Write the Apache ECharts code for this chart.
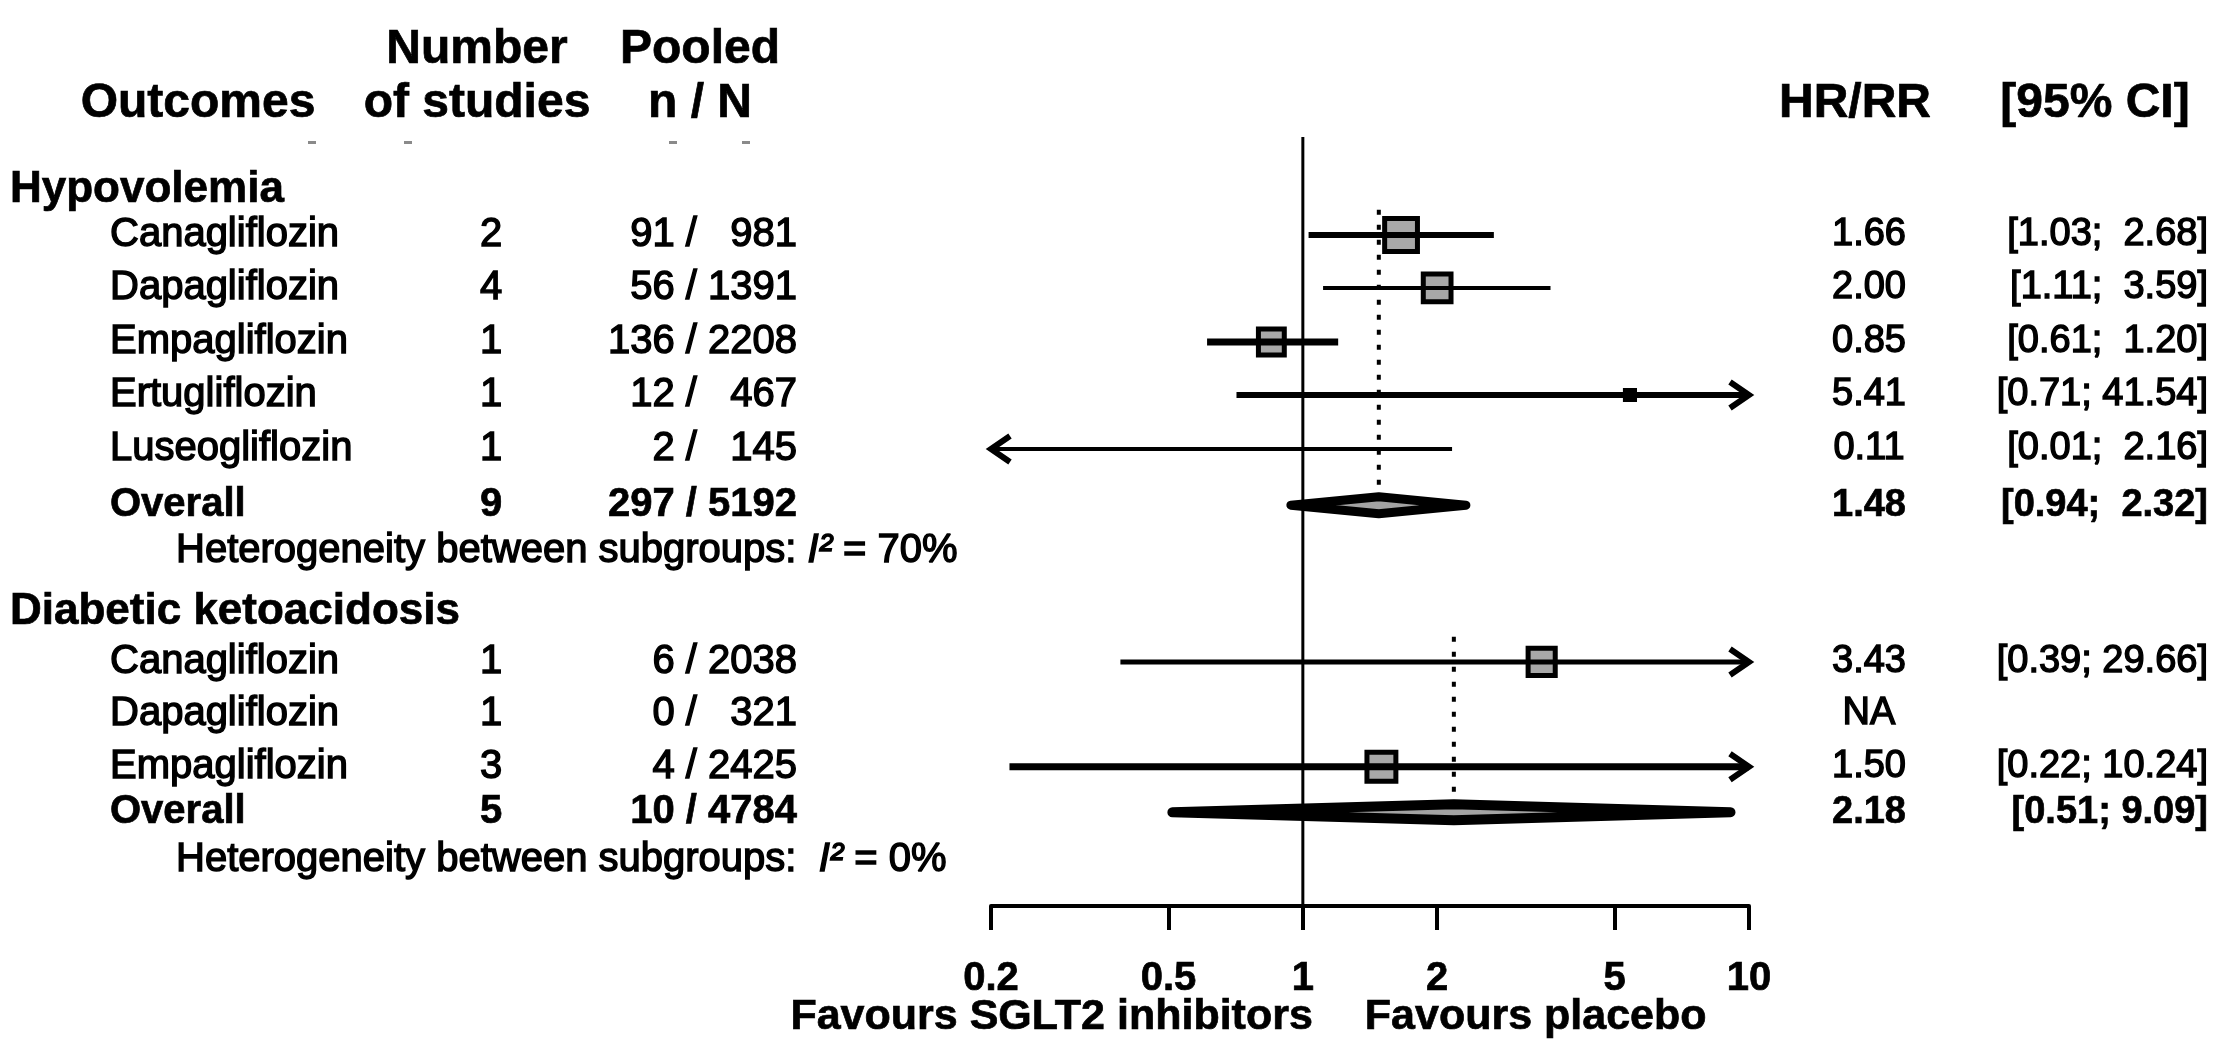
<!DOCTYPE html>
<html>
<head>
<meta charset="utf-8">
<title>SGLT2 inhibitors: hypovolemia and diabetic ketoacidosis</title>
<script src="https://cdn.jsdelivr.net/npm/echarts@6/dist/echarts.min.js"></script>
<style>
  html, body { margin: 0; padding: 0; background: #ffffff; }
  #chart { width: 2223px; height: 1043px; }
</style>
</head>
<body>
<div id="chart"></div>
<script>
// ---------------- Data ----------------
const outcomeGroups = ['Hypovolemia', 'Diabetic ketoacidosis'];

// one entry per drug row
const studyGroup  = [0, 0, 0, 0, 0, 1, 1, 1];
const studyDrug   = ['Canagliflozin', 'Dapagliflozin', 'Empagliflozin', 'Ertugliflozin', 'Luseogliflozin',
                     'Canagliflozin', 'Dapagliflozin', 'Empagliflozin'];
const studyCount  = [2, 4, 1, 1, 1, 1, 1, 3];
const studyEvents = [91, 56, 136, 12, 2, 6, 0, 4];
const studyTotal  = [981, 1391, 2208, 467, 145, 2038, 321, 2425];
const studyHR     = [1.66, 2.00, 0.85, 5.41, 0.11, 3.43, null, 1.50];
const studyLower  = [1.03, 1.11, 0.61, 0.71, 0.01, 0.39, null, 0.22];
const studyUpper  = [2.68, 3.59, 1.20, 41.54, 2.16, 29.66, null, 10.24];
const studyWeight = [36, 27, 24, 5, 1, 26, 0, 29];

// pooled result per outcome
const overallCount  = [9, 5];
const overallEvents = [297, 10];
const overallTotal  = [5192, 4784];
const overallHR     = [1.48, 2.18];
const overallLower  = [0.94, 0.51];
const overallUpper  = [2.32, 9.09];
const subgroupI2    = [70, 0];

const axisTicks      = [0.2, 0.5, 1, 2, 5, 10];
const axisTickLabels = ['0.2', '0.5', '1', '2', '5', '10'];
const favourLabels   = ['Favours SGLT2 inhibitors', 'Favours placebo'];

// ---------------- Layout ----------------
const FONT = "'Liberation Sans', Arial, Helvetica, sans-serif";
const lg = Math.log10;
const X_MIN = lg(axisTicks[0]);
const X_MAX = lg(axisTicks[axisTicks.length - 1]);
const Y_MIN = -1.832, Y_MAX = 12.542;        // vertical extent of the plot panel, in row slots

// vertical position of each table line, in row slots
const headerSlots  = [-3.46, -2.45];
const groupSlots   = [-0.84, 7.05];
const studySlots   = [0, 0.99, 2.0, 2.99, 4.0, 7.98, 8.95, 9.94];
const overallSlots = [5.05, 10.79];
const hetSlots     = [5.91, 11.68];
const footerSlot   = 14.62;

// horizontal anchors of the text columns (px)
const COL = { group: 10, drug: 110, het: 176, count: 491, events: 797, hr: 1869, ci: 2208 };
const HEAD = { outcomes: 198, studies: 477, pooled: 700, hr: 1855, ci: 2095 };

const TEXT = {
  head:    { size: 48, bold: true },
  group:   { size: 44, bold: true },
  body:    { size: 40, bold: false },
  bodyB:   { size: 40, bold: true },
  value:   { size: 38, bold: false },
  valueB:  { size: 38, bold: true },
  footer:  { size: 43, bold: true }
};

// ---------------- Formatting helpers ----------------
const fmt2 = v => v.toFixed(2);
const padLeft = (s, n) => ' '.repeat(Math.max(0, n - s.length)) + s;
const fmtCI = (lo, hi, w) => '[' + fmt2(lo) + '; ' + padLeft(fmt2(hi), w) + ']';
const fmtNN = (n, N) => n + ' / ' + '  '.repeat(Math.max(0, 4 - String(N).length)) + N;
const overallCIWidth = [5, 4];

// ---------------- Table rows ----------------
const tableRows = [];
tableRows.push({ slot: headerSlots[0], cells: [
  { x: HEAD.studies, text: 'Number', align: 'center', st: TEXT.head },
  { x: HEAD.pooled, text: 'Pooled', align: 'center', st: TEXT.head }
]});
tableRows.push({ slot: headerSlots[1], cells: [
  { x: HEAD.outcomes, text: 'Outcomes', align: 'center', st: TEXT.head },
  { x: HEAD.studies, text: 'of studies', align: 'center', st: TEXT.head },
  { x: HEAD.pooled, text: 'n / N', align: 'center', st: TEXT.head },
  { x: HEAD.hr, text: 'HR/RR', align: 'center', st: TEXT.head },
  { x: HEAD.ci, text: '[95% CI]', align: 'center', st: TEXT.head }
]});
outcomeGroups.forEach((g, gi) => {
  tableRows.push({ slot: groupSlots[gi], cells: [
    { x: COL.group, text: g, align: 'left', st: TEXT.group }
  ]});
  studyDrug.forEach((d, i) => {
    if (studyGroup[i] !== gi) return;
    const hasEst = studyHR[i] != null;
    tableRows.push({ slot: studySlots[i], cells: [
      { x: COL.drug, text: d, align: 'left', st: TEXT.body },
      { x: COL.count, text: String(studyCount[i]), align: 'center', st: TEXT.body },
      { x: COL.events, text: fmtNN(studyEvents[i], studyTotal[i]), align: 'right', st: TEXT.body },
      { x: COL.hr, text: hasEst ? fmt2(studyHR[i]) : 'NA', align: 'center', st: TEXT.value },
      { x: COL.ci, text: hasEst ? fmtCI(studyLower[i], studyUpper[i], 5) : '', align: 'right', st: TEXT.value }
    ]});
  });
  tableRows.push({ slot: overallSlots[gi], cells: [
    { x: COL.drug, text: 'Overall', align: 'left', st: TEXT.bodyB },
    { x: COL.count, text: String(overallCount[gi]), align: 'center', st: TEXT.bodyB },
    { x: COL.events, text: fmtNN(overallEvents[gi], overallTotal[gi]), align: 'right', st: TEXT.bodyB },
    { x: COL.hr, text: fmt2(overallHR[gi]), align: 'center', st: TEXT.valueB },
    { x: COL.ci, text: fmtCI(overallLower[gi], overallUpper[gi], overallCIWidth[gi]), align: 'right', st: TEXT.valueB }
  ]});
  tableRows.push({ slot: hetSlots[gi], cells: [
    { x: COL.het, text: 'Heterogeneity between subgroups: ' + (subgroupI2[gi] < 10 ? ' ' : '') +
        '{i|I²} = ' + subgroupI2[gi] + '%', align: 'left', st: TEXT.body }
  ]});
});
// captions under the axis, placed either side of the line of no effect
tableRows.push({ slot: footerSlot, cells: [
  { atOne: 10, text: favourLabels[0], align: 'right', st: TEXT.footer },
  { atOne: 62, text: favourLabels[1], align: 'left', st: TEXT.footer }
]});

function renderTable(params, api) {
  const row = tableRows[params.dataIndex];
  const p = api.coord([0, api.value(1)]);
  return {
    type: 'group',
    children: row.cells.map(c => {
      const weight = c.st.bold ? 0.7 : 1.4;
      return {
        type: 'text',
        x: c.atOne != null ? p[0] + c.atOne : c.x,
        y: p[1],
        silent: true,
        style: {
          text: c.text,
          fill: '#000',
          fontFamily: FONT,
          fontSize: c.st.size,
          fontWeight: c.st.bold ? 'bold' : 'normal',
          stroke: '#000',
          lineWidth: weight,
          align: c.align,
          verticalAlign: 'middle',
          rich: { i: { fontFamily: FONT, fontSize: c.st.size, fontStyle: 'italic',
                       fill: '#000', stroke: '#000', lineWidth: weight } }
        }
      };
    })
  };
}

// ---------------- Forest marks ----------------
const BOX_SCALE = 6.3;
const ciWidth = [6, 4, 7, 6, 4, 5, 0, 7];

const studyItems = [];
studyDrug.forEach((d, i) => {
  if (studyHR[i] == null) return;
  studyItems.push([lg(studyLower[i]), lg(studyHR[i]), lg(studyUpper[i]), studySlots[i], i]);
});

function chevron(tip, dir) {
  return {
    type: 'polyline',
    shape: { points: [[tip[0] - dir * 19, tip[1] - 13], tip, [tip[0] - dir * 19, tip[1] + 13]] },
    style: { stroke: '#000', lineWidth: 6, fill: null, lineJoin: 'miter' }
  };
}

function renderStudy(params, api) {
  const lo = api.value(0), est = api.value(1), hi = api.value(2), slot = api.value(3);
  const i = api.value(4);
  const a = api.coord([Math.max(lo, X_MIN), slot]);
  const b = api.coord([Math.min(hi, X_MAX), slot]);
  const children = [];
  if (est >= X_MIN && est <= X_MAX) {
    const c = api.coord([est, slot]);
    const s = BOX_SCALE * Math.sqrt(studyWeight[i]);
    const lw = Math.min(5, s / 3);
    children.push({
      type: 'rect',
      shape: { x: c[0] - (s - lw) / 2, y: c[1] - (s - lw) / 2, width: s - lw, height: s - lw },
      style: { fill: s > 18 ? '#a8a8a8' : '#000', stroke: '#000', lineWidth: lw }
    });
  }
  children.push({
    type: 'line',
    shape: { x1: a[0], y1: a[1], x2: b[0], y2: b[1] },
    style: { stroke: '#000', lineWidth: ciWidth[i] }
  });
  if (hi > X_MAX) children.push(chevron(b, 1));
  if (lo < X_MIN) children.push(chevron(a, -1));
  return { type: 'group', children };
}

const overallItems = outcomeGroups.map((g, gi) =>
  [lg(overallLower[gi]), lg(overallHR[gi]), lg(overallUpper[gi]), overallSlots[gi], gi]);

const diamondHalf = [8.5, 8];
const diamondStroke = [9, 10];
function renderOverall(params, api) {
  const lo = api.value(0), est = api.value(1), hi = api.value(2), slot = api.value(3);
  const gi = api.value(4);
  const a = api.coord([lo, slot]), c = api.coord([est, slot]), b = api.coord([hi, slot]);
  const h = diamondHalf[gi];
  return {
    type: 'polygon',
    shape: { points: [a, [c[0], c[1] - h], b, [c[0], c[1] + h]] },
    style: { fill: '#a3a3a3', stroke: '#000', lineWidth: diamondStroke[gi], lineJoin: 'round' }
  };
}

// dotted line at each pooled estimate, from just above its first drug row down to the diamond
const pooledGuides = outcomeGroups.map((g, gi) => {
  const first = Math.min(...studySlots.filter((s, i) => studyGroup[i] === gi));
  return [lg(overallHR[gi]), first - 0.47, overallSlots[gi]];
});
function renderGuide(params, api) {
  const p1 = api.coord([api.value(0), api.value(1)]);
  const p2 = api.coord([api.value(0), api.value(2)]);
  return {
    type: 'line',
    shape: { x1: p1[0], y1: p1[1], x2: p2[0], y2: p2[1] },
    style: { stroke: '#000', lineWidth: 4, lineDash: [5, 10] }
  };
}

// ---------------- Chart ----------------
const chart = echarts.init(document.getElementById('chart'), null, { renderer: 'canvas' });

const tickLog = axisTicks.map(lg);
chart.setOption({
  animation: false,
  backgroundColor: '#ffffff',
  grid: { left: 991, width: 758, top: 137, height: 769, containLabel: false, outerBoundsMode: 'none' },
  xAxis: {
    type: 'value',
    min: X_MIN,
    max: X_MAX,
    axisLine: { show: true, onZero: false, lineStyle: { color: '#000', width: 4 } },
    axisTick: { show: true, customValues: tickLog, length: 24, lineStyle: { color: '#000', width: 4 } },
    axisLabel: {
      show: true,
      customValues: tickLog,
      formatter: v => {
        const k = tickLog.findIndex(t => Math.abs(t - v) < 1e-9);
        return k >= 0 ? axisTickLabels[k] : '';
      },
      color: '#000',
      fontFamily: FONT,
      fontSize: 40,
      fontWeight: 'bold',
      textBorderColor: '#000',
      textBorderWidth: 0.7,
      verticalAlign: 'middle',
      margin: 73
    },
    splitLine: { show: false }
  },
  yAxis: {
    type: 'value',
    min: Y_MIN,
    max: Y_MAX,
    inverse: true,
    show: false
  },
  series: [
    {
      name: 'no effect',
      type: 'line',
      data: [[0, Y_MIN], [0, Y_MAX]],
      symbol: 'none',
      silent: true,
      lineStyle: { color: '#000', width: 3 },
      z: 1
    },
    {
      name: 'pooled guide',
      type: 'custom',
      data: pooledGuides,
      renderItem: renderGuide,
      silent: true,
      z: 2
    },
    {
      name: 'drugs',
      type: 'custom',
      data: studyItems,
      renderItem: renderStudy,
      silent: true,
      z: 3
    },
    {
      name: 'pooled',
      type: 'custom',
      data: overallItems,
      renderItem: renderOverall,
      silent: true,
      z: 4
    },
    {
      name: 'table',
      type: 'custom',
      data: tableRows.map(r => [0, r.slot]),
      renderItem: renderTable,
      silent: true,
      clip: false,
      z: 5
    }
  ],
  graphic: [312, 408, 673, 746].map(x => ({
    type: 'rect', left: x - 4, top: 141, silent: true,
    shape: { width: 8, height: 3 }, style: { fill: '#8a8a8a' }
  }))
});
</script>
</body>
</html>
